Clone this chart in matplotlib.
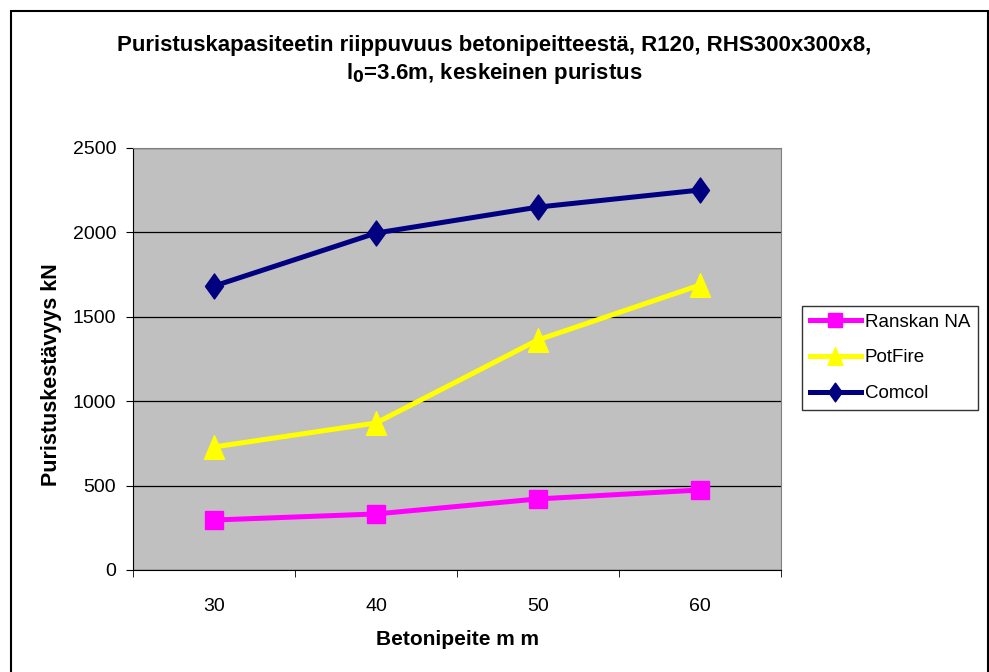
import matplotlib
matplotlib.use("Agg")
import matplotlib.pyplot as plt
from matplotlib.patches import Rectangle
from matplotlib.path import Path

categories = ["30", "40", "50", "60"]
ranskan_na = [296, 332, 421, 474]
potfire = [729, 871, 1363, 1688]
comcol = [1682, 1996, 2150, 2251]
yticks = [0, 500, 1000, 1500, 2000, 2500]

plt.rcParams['font.family'] = ['Liberation Sans', 'DejaVu Sans']

W, H = 989, 672
fig = plt.figure(figsize=(W/100, H/100), dpi=100)
ax = fig.add_axes([133/W, 1-570/H, (781-133)/W, (570-148)/H])
ax.set_facecolor('#c0c0c0')

diamond = Path([(0, 1), (0.72, 0), (0, -1), (-0.72, 0), (0, 1)], closed=True)
triangle = Path([(-0.85, -1), (0.85, -1), (0, 1), (-0.85, -1)], closed=True)

x = list(range(len(categories)))
ax.plot(x, ranskan_na, color='#ff00ff', lw=3.6, marker='s', ms=13, label='Ranskan NA', zorder=3)
ax.plot(x, potfire, color='#ffff00', lw=3.6, marker=triangle, ms=17, label='PotFire', zorder=3)
ax.plot(x, comcol, color='#000080', lw=3.6, marker=diamond, ms=18, label='Comcol', zorder=3)

ax.set_xlim(-0.5, 3.5)
ax.set_ylim(0, 2500)
ax.set_yticks(yticks)
ax.set_yticklabels([str(v) for v in yticks], fontsize=14)
ax.set_xticks(x)
ax.set_xticklabels(categories, fontsize=14)
ax.tick_params(axis='x', length=0, pad=20)
ax.set_xticks([-0.5, 0.5, 1.5, 2.5, 3.5], minor=True)
ax.tick_params(axis='x', which='minor', length=5, direction='out', color='#000000')
ax.tick_params(axis='y', length=5, direction='out', pad=7)
ax.grid(axis='y', color='#000000', lw=0.9)
ax.set_axisbelow(True)
for s in ['top', 'right']:
    ax.spines[s].set_color('#808080')
ax.spines['left'].set_color('#000000')
ax.spines['bottom'].set_color('#000000')

ax.set_xlabel('Betonipeite m m', fontsize=15, fontweight='bold', labelpad=11)
ax.set_ylabel('Puristuskestävyys kN', fontsize=15.5, fontweight='bold')
ax.yaxis.set_label_coords(-0.109, 0.462)

fig.text(0.5, 1-45/H, 'Puristuskapasiteetin riippuvuus betonipeitteestä, R120, RHS300x300x8,',
         ha='center', va='center', fontsize=16, fontweight='bold')
fig.text(0.5, 1-73/H, r'l$_\mathbf{0}$=3.6m, keskeinen puristus',
         ha='center', va='center', fontsize=16, fontweight='bold')

leg = ax.legend(loc='upper left', bbox_to_anchor=(802/W, 1-306/H), bbox_transform=fig.transFigure,
                fontsize=13.5, frameon=True, fancybox=False, edgecolor='#000000',
                handlelength=2.75, borderaxespad=0, labelspacing=1.0, handletextpad=0.2,
                borderpad=0.4, markerscale=0.75)
leg.get_frame().set_linewidth(1.0)

fig.patches.append(Rectangle((11/W, -10/H), (988-11)/W, (672-11+10)/H, transform=fig.transFigure,
                             fill=False, edgecolor='#000000', lw=1.5))

fig.savefig('out.png', dpi=100)
